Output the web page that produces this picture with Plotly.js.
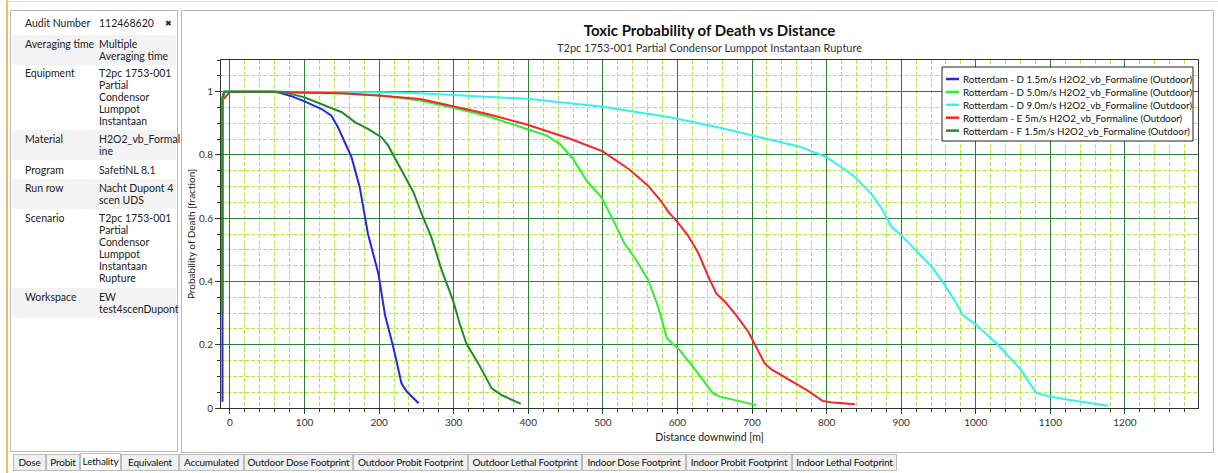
<!DOCTYPE html>
<html>
<head>
<meta charset="utf-8">
<script src="https://cdn.plot.ly/plotly-3.0.1.min.js"></script>
<style>
  html, body { margin:0; padding:0; width:1218px; height:473px; overflow:hidden; background:#ffffff; font-family:"Lato", sans-serif; }
  #orange { position:absolute; left:6px; top:0; width:2px; height:473px; background:#f5b760; }
  #topline { position:absolute; left:6px; top:1px; width:1212px; height:1px; background:#f3d9b8; }
  #panel { position:absolute; left:10px; top:10px; width:166px; height:440px; border:1px solid #b9b9b9; background:#fff; }
  .row { position:absolute; left:1px; width:164px; font-size:10.5px; color:#222; line-height:12px; }
  .row.sh { background:#f3f3f3; }
  .lab { position:absolute; left:13px; top:0; white-space:nowrap; }
  .val { position:absolute; left:87px; top:0; width:78px; white-space:nowrap; }
  #close { position:absolute; left:154px; top:7px; font-size:8px; color:#222; }
  #chartbox { position:absolute; left:181px; top:10px; width:1031px; height:441px; border:1px solid #b9b9b9; background:#fff; }
  #chart { position:absolute; left:182px; top:12px; width:1031px; height:440px; }
  #tabs { position:absolute; left:13px; top:454px; height:17px; font-size:10px; letter-spacing:-0.2px; color:#111; }
  .tab { position:absolute; top:0; height:15px; line-height:15px; border:1px solid #bcbcbc; background:#f0f0f0; text-align:center; white-space:nowrap; overflow:visible; }
  .tab.sel { background:#ffffff; top:-1px; height:16px; }
</style>
</head>
<body>
<div id="orange"></div>
<div id="topline"></div>
<div id="panel"></div>
<div id="chartbox"></div>
<div id="chart"></div>
<div id="tabs"></div>
<script>
// ---------- side panel (metadata) ----------
const panelLabels = ["Audit Number","Averaging time","Equipment","Material","Program","Run row","Scenario","Workspace"];
const panelValues = [
  ["112468620"],
  ["Multiple","Averaging time"],
  ["T2pc 1753-001","Partial","Condensor","Lumppot","Instantaan"],
  ["H2O2_vb_Formal","ine"],
  ["SafetiNL 8.1"],
  ["Nacht Dupont 4","scen UDS"],
  ["T2pc 1753-001","Partial","Condensor","Lumppot","Instantaan","Rupture"],
  ["EW","test4scenDupont"]
];
const tabNames = ["Dose","Probit","Lethality","Equivalent","Accumulated","Outdoor Dose Footprint","Outdoor Probit Footprint","Outdoor Lethal Footprint","Indoor Dose Footprint","Indoor Probit Footprint","Indoor Lethal Footprint"];
const selectedTab = "Lethality";

// ---------- chart data ----------
const seriesNames = [
  "Rotterdam - D 1.5m/s H2O2_vb_Formaline (Outdoor)",
  "Rotterdam - D 5.0m/s H2O2_vb_Formaline (Outdoor)",
  "Rotterdam - D 9.0m/s H2O2_vb_Formaline (Outdoor)",
  "Rotterdam - E 5m/s H2O2_vb_Formaline (Outdoor)",
  "Rotterdam - F 1.5m/s H2O2_vb_Formaline (Outdoor)"
];
const seriesColors = ["#2626e6","#2ff02f","#30f2f2","#f02828","#228b22"];

const d15X = [-10,-10,-8,0,30,60,69,83,100,123,136,145,154,163,174,185,199,202,208,219,230,237,253];
const d15Y = [0.02,0.98,1.0,1.0,1.0,1.0,0.995,0.985,0.969,0.945,0.924,0.887,0.840,0.793,0.698,0.551,0.425,0.383,0.293,0.193,0.078,0.052,0.015];

const d50X = [-9,-7,0,50,100,150,203,255,293,344,398,425,442,460,478,498,514,529,545,561,574,586,603,621,639,648,657,706];
const d50Y = [0.98,1.0,1.0,1.0,0.996,0.994,0.988,0.972,0.952,0.924,0.882,0.861,0.835,0.788,0.719,0.667,0.593,0.520,0.467,0.404,0.320,0.220,0.183,0.130,0.073,0.046,0.036,0.009];

const d90X = [-9,-7,0,100,200,255,300,402,500,590,657,733,764,798,820,838,860,874,887,898,920,941,956,970,983,1001,1028,1059,1081,1099,1122,1157,1177];
const d90Y = [0.98,1.0,1.0,1.0,0.998,0.995,0.99,0.977,0.952,0.919,0.886,0.845,0.826,0.795,0.761,0.730,0.677,0.630,0.572,0.551,0.498,0.446,0.398,0.346,0.293,0.262,0.204,0.125,0.048,0.036,0.027,0.015,0.007];

const e5X = [-8,0,50,100,150,203,255,293,344,398,456,500,536,561,579,588,599,614,628,641,652,664,679,695,706,717,726,746,773,795,809,838];
const e5Y = [0.977,1.0,1.0,0.998,0.995,0.987,0.977,0.957,0.930,0.896,0.851,0.811,0.753,0.702,0.651,0.619,0.591,0.546,0.490,0.418,0.362,0.335,0.293,0.241,0.193,0.141,0.122,0.094,0.057,0.022,0.017,0.012];

const f15X = [-10,-10,-7,0,30,69,100,127,150,168,185,203,212,223,235,246,257,270,284,299,308,317,333,351,364,390];
const f15Y = [0.3,0.98,1.0,1.0,1.0,1.0,0.982,0.956,0.935,0.903,0.882,0.856,0.830,0.782,0.730,0.682,0.614,0.540,0.435,0.341,0.267,0.204,0.141,0.062,0.041,0.013];

const xTickVals = [0,100,200,300,400,500,600,700,800,900,1000,1100,1200];
const yTickVals = [0,0.2,0.4,0.6,0.8,1];
const yTickText = ["0","0.2","0.4","0.6","0.8","1"];

const chartTitle = "Toxic Probability of Death vs Distance";
const chartSubtitle = "T2pc 1753-001 Partial Condensor Lumppot Instantaan Rupture";
const xTitle = "Distance downwind [m]";
const yTitle = "Probability of Death [fraction]";

// ---------- build side panel ----------
(function(){
  const panel = document.getElementById('panel');
  const rowTops = [6,27,56,122,153,171,201,280];
  panelLabels.forEach((lab,i)=>{
    const r = document.createElement('div');
    r.className = 'row' + (i%2===1 ? ' sh' : '');
    const h = panelValues[i].length*12 + 6;
    r.style.top = (rowTops[i]-3)+'px';
    r.style.height = h+'px';
    const l = document.createElement('div'); l.className='lab'; l.style.top='3px'; l.textContent = lab;
    const v = document.createElement('div'); v.className='val'; v.style.top='3px'; v.innerHTML = panelValues[i].join('<br>');
    r.appendChild(l); r.appendChild(v); panel.appendChild(r);
  });
  const c = document.createElement('div'); c.id='close'; c.textContent='\u2716'; panel.appendChild(c);

  const tabs = document.getElementById('tabs');
  const tabW = [33,34,41,58,65,109,115,114,104,106,105];
  let x = 0;
  tabNames.forEach((t,i)=>{
    const d = document.createElement('div');
    d.className = 'tab' + (t===selectedTab ? ' sel' : '');
    d.style.left = x+'px'; d.style.width = (tabW[i]-2)+'px';
    d.textContent = t; tabs.appendChild(d);
    x += tabW[i];
  });
})();

// ---------- chart ----------
const xs = [d15X,d50X,d90X,e5X,f15X];
const ys = [d15Y,d50Y,d90Y,e5Y,f15Y];
const traces = seriesNames.map((n,i)=>({
  type:'scatter', mode:'lines', name:n, x:xs[i], y:ys[i],
  line:{color:seriesColors[i], width:2}
}));

// plot area in page pixels (for paper-coordinate helpers)
const PL = 221, PR = 1198, PT = 60, PB = 408;
const px2paperX = p => (p-PL)/(PR-PL);
const py2paperY = p => (PB-p)/(PB-PT);

// legend drawn as shapes + annotations (compact rows like the original)
const legShapes = [], legAnn = [];
legShapes.push({type:'rect', xref:'paper', yref:'paper', x0:px2paperX(942), x1:px2paperX(1193), y0:py2paperY(141), y1:py2paperY(67), line:{color:'#222', width:1}, fillcolor:'#ffffff', layer:'above'});
seriesNames.forEach((n,i)=>{
  const yc = 79 + 12.9*i;
  legShapes.push({type:'line', xref:'paper', yref:'paper', x0:px2paperX(946), x1:px2paperX(959), y0:py2paperY(yc), y1:py2paperY(yc), line:{color:seriesColors[i], width:2.5}, layer:'above'});
  legAnn.push({text:n, xref:'paper', yref:'paper', x:px2paperX(961), y:py2paperY(yc), xanchor:'left', yanchor:'middle', showarrow:false, font:{family:'Lato, sans-serif', size:9.8, color:'#111'}});
});

const majorGrid = '#2f7f3a';
const minorGrid = '#b2e64a';
const layout = {
  width:1031, height:440,
  margin:{l:39, r:15, t:48, b:44, pad:0},
  paper_bgcolor:'rgba(0,0,0,0)', plot_bgcolor:'#ffffff',
  font:{family:'Lato, sans-serif', size:10, color:'#333'},
  showlegend:false,
  title:{text:chartTitle, font:{family:'Lato, sans-serif', size:15, color:'#111', weight:'bold'}, x:0.5, xref:'paper', xanchor:'center', y:1-19/440, yref:'container', yanchor:'middle'},
  annotations:[{text:chartSubtitle, xref:'paper', yref:'paper', x:0.5, y:py2paperY(48), yanchor:'middle', xanchor:'center', showarrow:false, font:{family:'Lato, sans-serif', size:11, color:'#333'}}].concat(legAnn),
  shapes:legShapes,
  xaxis:{
    range:[-12,1298], tickvals:xTickVals, ticks:'outside', ticklen:5, tickcolor:'#333',
    showgrid:true, gridcolor:majorGrid, gridwidth:1, zeroline:false,
    showline:true, linecolor:'#333', linewidth:1, mirror:true,
    tickfont:{size:10, color:'#333'},
    minor:{dtick:20, tick0:0, showgrid:true, gridcolor:minorGrid, griddash:'4px,2px', gridwidth:1, ticks:'outside', ticklen:3, tickcolor:'#333'},
    title:{text:xTitle, font:{size:10.5, color:'#222'}, standoff:6},
    automargin:false, fixedrange:true
  },
  yaxis:{
    range:[0,1.1], tickvals:yTickVals, ticktext:yTickText, ticks:'outside', ticklen:5, tickcolor:'#333',
    showgrid:true, gridcolor:majorGrid, gridwidth:1, zeroline:false,
    showline:true, linecolor:'#333', linewidth:1, mirror:true,
    tickfont:{size:10, color:'#333'},
    minor:{dtick:0.05, tick0:0, showgrid:true, gridcolor:minorGrid, griddash:'4px,2px', gridwidth:1, ticks:'outside', ticklen:3, tickcolor:'#333'},
    title:{text:yTitle, font:{size:10, color:'#222'}, standoff:1},
    automargin:false, fixedrange:true
  }
};

Plotly.newPlot('chart', traces, layout, {displayModeBar:false, staticPlot:true});
</script>
</body>
</html>
